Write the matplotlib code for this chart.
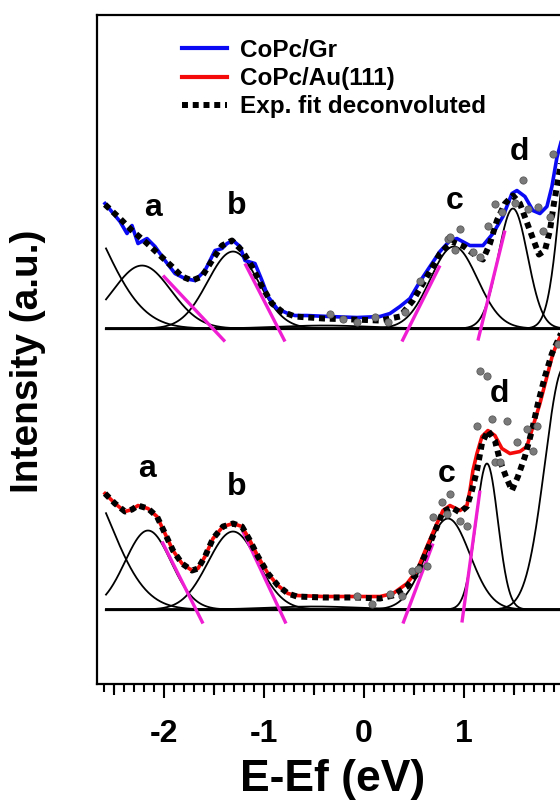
import numpy as np
import matplotlib
matplotlib.use("Agg")
import matplotlib.pyplot as plt
from matplotlib.ticker import MultipleLocator, FixedLocator

plt.rcParams['font.family'] = ['Liberation Sans', 'DejaVu Sans']
plt.rcParams['font.weight'] = 'bold'

# ---------------- data (energies in eV, intensities in a.u.) ----------------
# top spectrum: CoPc/Gr
gr_x = [-2.59, -2.49, -2.44, -2.37, -2.32, -2.26, -2.17, -2.09, -1.99, -1.89, -1.79, -1.69,
        -1.59, -1.49, -1.42, -1.37, -1.31, -1.24, -1.19, -1.09, -1.02, -0.96, -0.87, -0.76,
        -0.69, -0.57, -0.34, -0.07, 0.16, 0.26, 0.36, 0.46, 0.56, 0.66, 0.76, 0.86, 0.93,
        1.06, 1.19, 1.29, 1.39, 1.48, 1.53, 1.61, 1.69, 1.76, 1.83, 1.88, 1.93, 1.97]
gr_y = [1.25, 1.13, 1.07, 0.95, 1.03, 0.85, 0.90, 0.82, 0.68, 0.55, 0.50, 0.48,
        0.58, 0.78, 0.80, 0.85, 0.88, 0.82, 0.68, 0.65, 0.48, 0.32, 0.20, 0.15,
        0.13, 0.13, 0.12, 0.11, 0.12, 0.15, 0.22, 0.30, 0.47, 0.62, 0.77, 0.88, 0.90,
        0.83, 0.83, 0.95, 1.12, 1.35, 1.38, 1.32, 1.18, 1.15, 1.22, 1.42, 1.71, 1.86]

grfit_x = [-2.59, -2.44, -2.32, -2.19, -2.06, -1.92, -1.82, -1.72, -1.62, -1.52, -1.42, -1.32,
           -1.22, -1.12, -1.02, -0.92, -0.82, -0.69, -0.40, -0.10, 0.16, 0.36, 0.49, 0.63,
           0.76, 0.88, 1.00, 1.13, 1.19, 1.26, 1.33, 1.41, 1.49, 1.56, 1.63, 1.69, 1.75,
           1.81, 1.86, 1.90, 1.94, 1.97]
grfit_y = [1.24, 1.10, 0.98, 0.87, 0.75, 0.62, 0.52, 0.48, 0.52, 0.68, 0.83, 0.88,
           0.78, 0.62, 0.42, 0.25, 0.17, 0.12, 0.10, 0.09, 0.08, 0.12, 0.28, 0.52,
           0.75, 0.87, 0.82, 0.72, 0.69, 0.85, 1.08, 1.25, 1.33, 1.25, 1.06, 0.90, 0.74,
           0.78, 0.98, 1.25, 1.48, 1.65]

grexp_x = [-0.34, -0.21, -0.07, 0.11, 0.24, 0.41, 0.56, 0.84, 0.86, 0.96, 0.91, 1.09, 1.16,
           1.24, 1.31, 1.38, 1.51, 1.59, 1.64, 1.74, 1.79, 1.86, 1.89]
grexp_y = [0.15, 0.10, 0.07, 0.12, 0.07, 0.17, 0.48, 0.90, 0.92, 1.00, 0.79, 0.77, 0.72,
           1.03, 1.25, 1.17, 1.26, 1.49, 1.20, 1.22, 0.98, 1.12, 1.75]

# Gaussian components of the top spectrum: centre, height, width (sigma)
gr_centres = [-3.00, -2.22, -1.31, -0.40, 0.90, 1.49, 2.10]
gr_heights = [1.39, 0.63, 0.77, 0.03, 0.82, 1.20, 2.30]
gr_widths = [0.40, 0.29, 0.255, 0.45, 0.235, 0.147, 0.13]

# bottom spectrum: CoPc/Au(111)
au_x = [-2.59, -2.49, -2.39, -2.32, -2.26, -2.16, -2.07, -1.99, -1.91, -1.82, -1.72, -1.66,
        -1.59, -1.51, -1.41, -1.31, -1.22, -1.14, -1.06, -0.96, -0.86, -0.76, -0.67, -0.41,
        -0.07, 0.16, 0.29, 0.43, 0.53, 0.63, 0.73, 0.79, 0.86, 0.96, 1.03, 1.06, 1.09,
        1.13, 1.18, 1.24, 1.31, 1.38, 1.46, 1.56, 1.63, 1.69, 1.76, 1.83, 1.89, 1.94, 1.97]
au_y = [1.16, 1.06, 0.98, 1.00, 1.04, 1.01, 0.93, 0.76, 0.59, 0.46, 0.39, 0.41,
        0.53, 0.71, 0.83, 0.86, 0.83, 0.69, 0.53, 0.36, 0.24, 0.16, 0.14, 0.13,
        0.13, 0.13, 0.16, 0.26, 0.39, 0.63, 0.86, 0.99, 1.04, 0.99, 1.04, 1.19, 1.39,
        1.56, 1.73, 1.79, 1.74, 1.61, 1.56, 1.58, 1.63, 1.83, 2.06, 2.33, 2.56, 2.68, 2.74]

aufit_x = [-2.59, -2.49, -2.39, -2.32, -2.26, -2.16, -2.07, -1.99, -1.91, -1.82, -1.72, -1.66,
           -1.59, -1.51, -1.41, -1.31, -1.22, -1.14, -1.06, -0.96, -0.86, -0.76, -0.67, -0.41,
           -0.07, 0.16, 0.29, 0.43, 0.53, 0.63, 0.73, 0.79, 0.88, 0.96, 1.03, 1.08, 1.13,
           1.18, 1.24, 1.31, 1.36, 1.42, 1.48, 1.54, 1.61, 1.68, 1.74, 1.81, 1.88, 1.94, 1.97]
aufit_y = [1.16, 1.06, 0.98, 1.00, 1.04, 1.01, 0.93, 0.76, 0.59, 0.46, 0.39, 0.41,
           0.53, 0.71, 0.83, 0.86, 0.83, 0.69, 0.53, 0.36, 0.24, 0.16, 0.13, 0.12,
           0.12, 0.11, 0.14, 0.23, 0.36, 0.59, 0.83, 0.98, 1.02, 0.97, 1.03, 1.19, 1.39,
           1.66, 1.79, 1.69, 1.49, 1.33, 1.19, 1.33, 1.53, 1.79, 2.06, 2.33, 2.56, 2.69, 2.76]

auexp_x = [-0.07, 0.08, 0.26, 0.38, 0.48, 0.54, 0.63, 0.69, 0.78, 0.83, 0.86, 0.96, 1.03,
           1.13, 1.16, 1.23, 1.28, 1.31, 1.36, 1.43, 1.53, 1.63, 1.69, 1.73, 1.94]
auexp_y = [0.14, 0.06, 0.16, 0.14, 0.39, 0.41, 0.44, 0.93, 1.08, 0.96, 1.16, 0.89, 0.84,
           1.84, 2.39, 2.34, 1.91, 1.48, 1.48, 1.89, 1.68, 1.81, 1.59, 1.84, 2.66]

au_centres = [-2.90, -2.16, -1.31, -0.50, 0.84, 1.23, 2.00]
au_heights = [1.43, 0.79, 0.78, 0.03, 0.91, 1.46, 2.42]
au_widths = [0.36, 0.23, 0.25, 0.45, 0.22, 0.11, 0.19]

# tangent (onset) lines: x0, y0, x1, y1
gr_tangents = [(-2.01, 0.53, -1.39, -0.13), (-1.19, 0.65, -0.79, -0.13),
               (0.76, 0.63, 0.38, -0.13), (1.41, 0.98, 1.14, -0.12)]
au_tangents = [(-2.02, 0.68, -1.61, -0.14), (-1.21, 0.78, -0.78, -0.14),
               (0.69, 0.66, 0.39, -0.14), (1.16, 1.19, 0.98, -0.13)]

peak_names = ['a', 'b', 'c', 'd']
gr_label_x = [-2.11, -1.27, 0.91, 1.56]
gr_label_y = [1.21, 1.23, 1.28, 1.77]
au_label_x = [-2.17, -1.27, 0.83, 1.36]
au_label_y = [1.41, 1.23, 1.36, 2.16]

offset_top = 2.81

# ---------------- figure ----------------
fig = plt.figure(figsize=(5.6, 8.0), dpi=100)
ax = fig.add_axes([0.1727, 0.1456, 0.870, 0.8356])
ax.set_xlim(-2.673, 2.2)
ax.set_ylim(-0.74, 5.945)

magenta = '#F01ED2'
xg = np.linspace(-2.58, 2.2, 800)

for off, cen, hgt, wid, tang in [(offset_top, gr_centres, gr_heights, gr_widths, gr_tangents),
                                 (0.0, au_centres, au_heights, au_widths, au_tangents)]:
    for c, h, w in zip(cen, hgt, wid):
        ax.plot(xg, off + h * np.exp(-(xg - c) ** 2 / (2 * w ** 2)), color='black', lw=1.3, zorder=2)
    ax.plot([xg[0], xg[-1]], [off, off], color='black', lw=1.6, zorder=2)
    for (x0, y0, x1, y1) in tang:
        ax.plot([x0, x1], [off + y0, off + y1], color=magenta, lw=2.4, solid_capstyle='butt', zorder=3)

l1, = ax.plot(gr_x, np.array(gr_y) + offset_top, color='#0A0AF5', lw=2.6, zorder=4, label='CoPc/Gr')
l2, = ax.plot(au_x, au_y, color='#F50A0A', lw=2.6, zorder=4, label='CoPc/Au(111)')
l3, = ax.plot(grfit_x, np.array(grfit_y) + offset_top, color='black', lw=4.3,
              linestyle=(0, (1, 0.8)), zorder=5, label='Exp. fit deconvoluted')
ax.plot(aufit_x, aufit_y, color='black', lw=4.3, linestyle=(0, (1, 0.8)), zorder=5)

ax.plot(grexp_x, np.array(grexp_y) + offset_top, 'o', ms=5.2, mfc='#7a7a7a', mec='#5a5a5a', mew=0.6, zorder=6)
ax.plot(auexp_x, auexp_y, 'o', ms=5.2, mfc='#7a7a7a', mec='#5a5a5a', mew=0.6, zorder=6)

for n, x, y in zip(peak_names, gr_label_x, gr_label_y):
    ax.text(x, y + offset_top, n, fontsize=23, fontweight='bold', ha='center', va='center')
for n, x, y in zip(peak_names, au_label_x, au_label_y):
    ax.text(x, y, n, fontsize=23, fontweight='bold', ha='center', va='center')

leg = ax.legend(handles=[l1, l2, l3], loc='upper left', bbox_to_anchor=(0.175, 0.9645),
                frameon=False, fontsize=17.5, handlelength=1.85, handletextpad=0.55,
                labelspacing=0.22, borderpad=0, borderaxespad=0)
for t in leg.get_texts():
    t.set_fontweight('bold')
leg.get_lines()[0].set_linewidth(3.0)
leg.get_lines()[1].set_linewidth(3.0)

# axes styling
for s in ax.spines.values():
    s.set_linewidth(1.6)
ax.set_yticks([])
ax.xaxis.set_major_locator(FixedLocator([-2, -1, 0, 1]))
ax.set_xticklabels(['-2', '-1', '0', '1'])
ax.xaxis.set_minor_locator(MultipleLocator(0.1))
ax.tick_params(axis='x', which='major', direction='out', length=10.3, width=1.5,
               labelsize=23, pad=15)
ax.tick_params(axis='x', which='minor', direction='out', length=5.8, width=1.5)
sec = ax.secondary_xaxis('bottom')
sec.set_xticks([-2.5, -1.5, -0.5, 0.5, 1.5])
sec.tick_params(direction='out', length=7.7, width=1.5, labelbottom=False)
sec.spines['bottom'].set_visible(False)

ax.set_xlabel('E-Ef (eV)', fontsize=32, fontweight='bold')
ax.xaxis.set_label_coords(0.485, -0.113)
ax.set_ylabel('Intensity (a.u.)', fontsize=28, fontweight='bold')
ax.yaxis.set_label_coords(-0.105, 0.4824)

fig.savefig('out.png', dpi=100)
